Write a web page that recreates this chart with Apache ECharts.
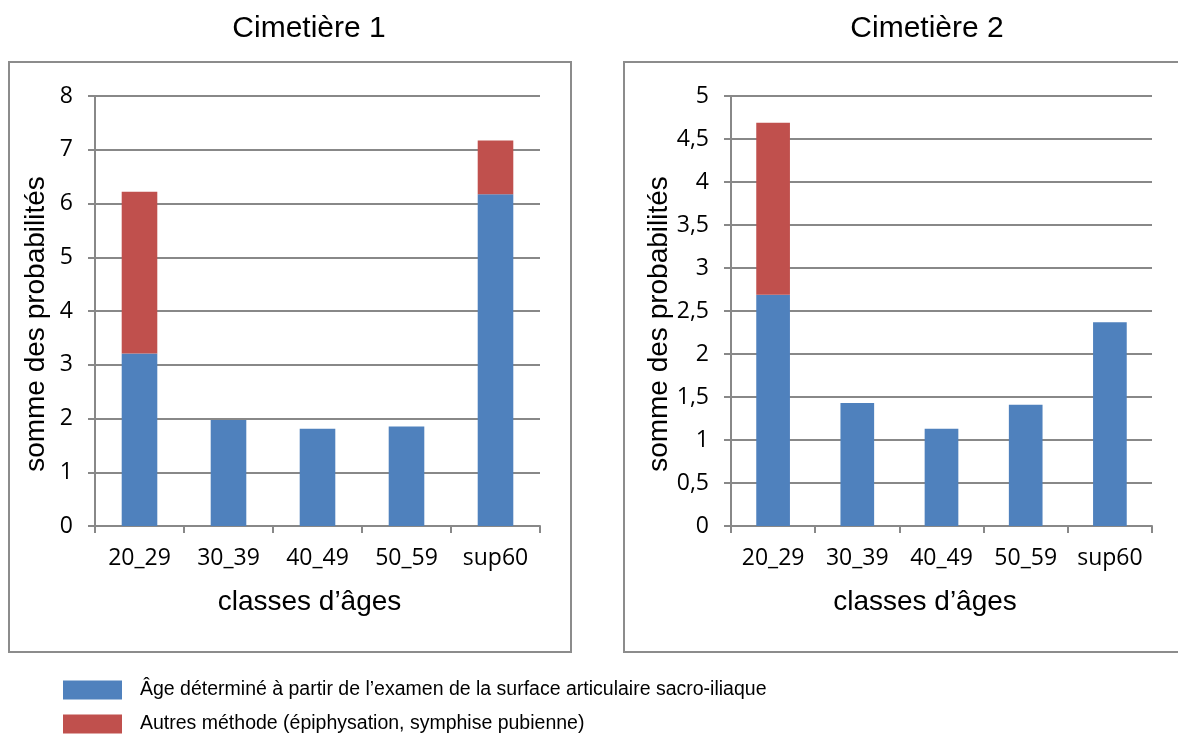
<!DOCTYPE html>
<html>
<head>
<meta charset="utf-8">
<script src="https://cdn.jsdelivr.net/npm/echarts@6/dist/echarts.min.js"></script>
<style>
  html, body { margin: 0; padding: 0; background: #ffffff; }
  #chart { width: 1178px; height: 741px; }
</style>
</head>
<body>
<div id="chart"></div>
<script>
// Age classes shared by both cemeteries
const categories = ['20_29', '30_39', '40_49', '50_59', 'sup60'];

// Cemetery 1: sum of probabilities per age class
const c1SacroIliac = [3.21, 1.97, 1.81, 1.85, 6.17];
const c1Other      = [3.01, 0, 0, 0, 1.00];

// Cemetery 2: sum of probabilities per age class
const c2SacroIliac = [2.69, 1.43, 1.13, 1.41, 2.37];
const c2Other      = [2.00, 0, 0, 0, 0];

const seriesNames = [
  'Âge déterminé à partir de l’examen de la surface articulaire sacro-iliaque',
  'Autres méthode (épiphysation, symphise pubienne)'
];
const panelTitles = ['Cimetière 1', 'Cimetière 2'];
const xTitle = 'classes d’âges';
const yTitle = 'somme des probabilités';

const BLUE = '#4F81BD';
const RED = '#C0504D';
const GRID_GREY = '#888888';
const LABEL_FONT = '"Open Sans", "Liberation Sans", sans-serif';
const TITLE_FONT = '"Liberation Sans", Arial, sans-serif';

const chart = echarts.init(document.getElementById('chart'), null, { renderer: 'canvas' });

function xAxisFor(gridIndex, namePad) {
  return {
    type: 'category',
    gridIndex: gridIndex,
    data: categories,
    name: xTitle,
    nameLocation: 'middle',
    nameGap: 62,
    nameTextStyle: { fontFamily: TITLE_FONT, fontSize: 28, color: '#000', padding: namePad },
    axisLine: { show: true, lineStyle: { color: GRID_GREY, width: 2 } },
    axisTick: { show: true, length: 7, alignWithLabel: false, lineStyle: { color: GRID_GREY, width: 2 } },
    axisLabel: { fontFamily: LABEL_FONT, fontSize: 23, color: '#000', margin: 21, interval: 0 },
    splitLine: { show: false }
  };
}

function yAxisFor(gridIndex, max, interval, decimalComma) {
  return {
    type: 'value',
    gridIndex: gridIndex,
    min: 0,
    max: max,
    interval: interval,
    name: yTitle,
    nameLocation: 'middle',
    nameGap: 45,
    nameTextStyle: { fontFamily: TITLE_FONT, fontSize: 28, color: '#000', padding: [0, 26, 0, 0] },
    axisLine: { show: true, lineStyle: { color: GRID_GREY, width: 2 } },
    axisTick: { show: true, length: 7, lineStyle: { color: GRID_GREY, width: 2 } },
    axisLabel: {
      fontFamily: LABEL_FONT, fontSize: 23, color: '#000', margin: 22,
      formatter: v => decimalComma ? String(v).replace('.', ',') : String(v)
    },
    splitLine: { show: true, lineStyle: { color: GRID_GREY, width: 2 } }
  };
}

function barSeries(name, data, color, axisIndex, stack) {
  return {
    type: 'bar',
    name: name,
    data: data,
    xAxisIndex: axisIndex,
    yAxisIndex: axisIndex,
    stack: stack,
    barWidth: '40%',
    itemStyle: { color: color },
    emphasis: { disabled: true }
  };
}

chart.setOption({
  backgroundColor: '#ffffff',
  animation: false,
  graphic: [
    { type: 'rect', z: -10, shape: { x: 9, y: 62, width: 562, height: 590 },
      style: { fill: '#ffffff', stroke: '#8c8c8c', lineWidth: 2 } },
    { type: 'rect', z: -10, shape: { x: 624, y: 62, width: 600, height: 590 },
      style: { fill: '#ffffff', stroke: '#8c8c8c', lineWidth: 2 } }
  ],
  title: [
    { text: panelTitles[0], left: 304, top: 9, textAlign: 'center',
      textStyle: { fontFamily: TITLE_FONT, fontSize: 30, fontWeight: 'normal', color: '#000' } },
    { text: panelTitles[1], left: 922, top: 9, textAlign: 'center',
      textStyle: { fontFamily: TITLE_FONT, fontSize: 30, fontWeight: 'normal', color: '#000' } }
  ],
  legend: {
    data: seriesNames,
    orient: 'vertical',
    left: 63,
    top: 680,
    padding: 0,
    width: 900,
    height: 61,
    icon: 'rect',
    itemWidth: 59,
    itemHeight: 19,
    itemGap: 14,
    selectedMode: false,
    textStyle: { fontFamily: TITLE_FONT, fontSize: 19.5, color: '#000', padding: [0, 0, 0, 13] }
  },
  grid: [
    { left: 95, right: 1178 - 540, top: 96, bottom: 741 - 526 },
    { left: 731, right: 1178 - 1152, top: 96, bottom: 741 - 526 }
  ],
  xAxis: [xAxisFor(0, [0, 16, 0, 0]), xAxisFor(1, [0, 33, 0, 0])],
  yAxis: [yAxisFor(0, 8, 1, false), yAxisFor(1, 5, 0.5, true)],
  series: [
    barSeries(seriesNames[0], c1SacroIliac, BLUE, 0, 'c1'),
    barSeries(seriesNames[1], c1Other, RED, 0, 'c1'),
    barSeries(seriesNames[0], c2SacroIliac, BLUE, 1, 'c2'),
    barSeries(seriesNames[1], c2Other, RED, 1, 'c2')
  ]
});
</script>
</body>
</html>
